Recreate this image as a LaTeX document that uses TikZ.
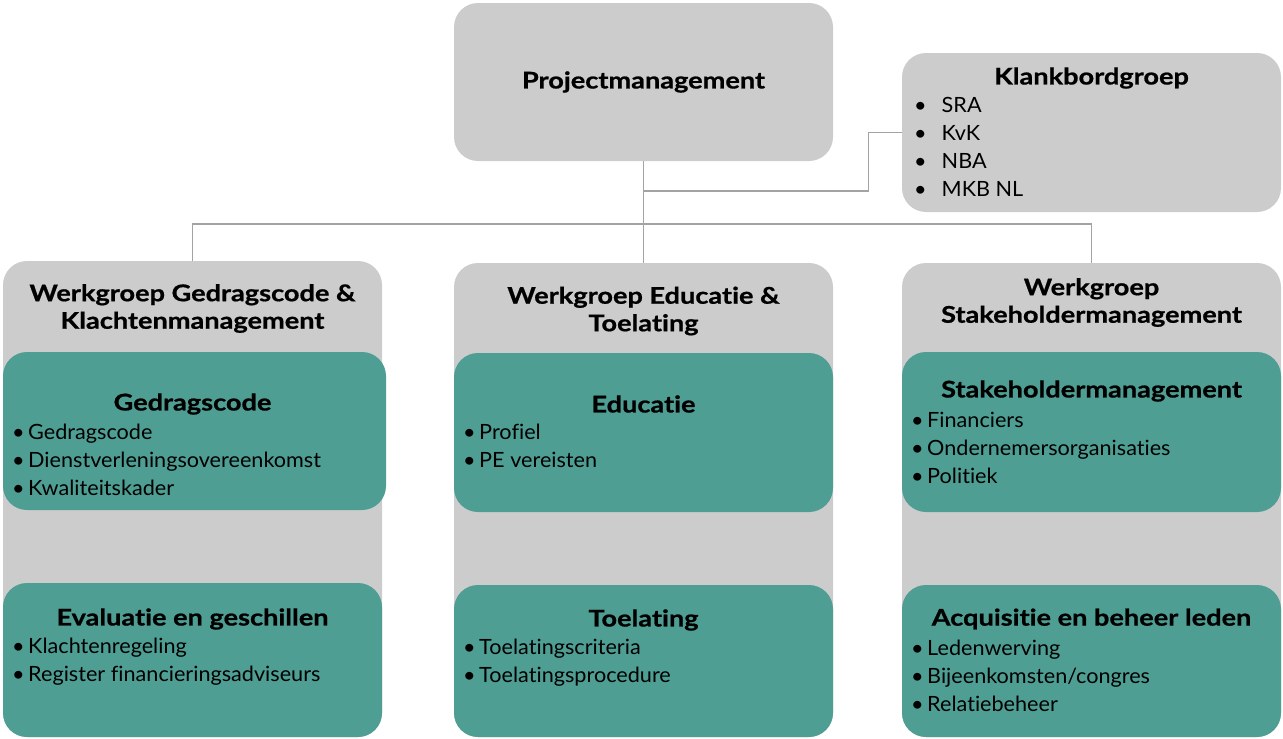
\documentclass[tikz,border=0pt]{standalone}
\usepackage{fontspec}
\setmainfont{Lato}[Ligatures=NoCommon, FakeStretch=1.03]
\newfontfamily\titlefont{Lato}[Ligatures=NoCommon, FakeStretch=1.18, BoldFeatures={FakeBold=0.8}]
\usetikzlibrary{positioning}
\definecolor{boxgray}{HTML}{CCCCCC}
\definecolor{wgteal}{HTML}{4E9E94}
\definecolor{linegray}{HTML}{A3A3A3}
\tikzset{
	graybox/.style={fill=boxgray, rounded corners=24pt, minimum width=379pt, inner sep=0pt},
	tealbox/.style={fill=wgteal, rounded corners=24pt, minimum width=379pt, inner sep=0pt},
	boxtitle/.style={font=\titlefont\fontsize{23}{27.5}\selectfont\bfseries, align=center, inner sep=0pt},
	boxitems/.style={font=\fontsize{21}{28}\selectfont, align=left, anchor=west, inner sep=0pt},
	conn/.style={draw=linegray, line width=1.8pt}
}
\begin{document}
\begin{tikzpicture}[x=1pt, y=-1pt]
	%%%%% START %%%%%
	\useasboundingbox (0,0) rectangle (1283,739);
	
	% top
	\node[graybox, minimum height=158pt] (pm) at (643.5,82) {};
	\node[boxtitle] (pmtitle) at (643.5,82) {Projectmanagement};
	
	\node[graybox, minimum height=159pt] (kb) at (1091.5,132.5) {};
	\node[boxtitle] (kbtitle) at (1091.5,78) {Klankbordgroep};
	\node[boxitems] (kbitems) at (914,147) {\textbullet\hspace{15pt}SRA\\ \textbullet\hspace{15pt}KvK\\ \textbullet\hspace{15pt}NBA\\ \textbullet\hspace{15pt}MKB NL};
	
	% werkgroepen
	\node[graybox, minimum height=476pt] (wgone) at (192.5,499) {};
	\node[graybox, minimum height=474pt] (wgtwo) at (643.5,500) {};
	\node[graybox, minimum height=474pt] (wgthree) at (1091.5,500) {};
	
	\node[boxtitle] (wgonetitle) at (192.5,308.5) {Werkgroep Gedragscode \&\\Klachtenmanagement};
	\node[boxtitle] (wgtwotitle) at (643.5,311) {Werkgroep Educatie \&\\Toelating};
	\node[boxtitle] (wgthreetitle) at (1091.5,302.5) {Werkgroep\\Stakeholdermanagement};
	
	% kolom 1
	\node[tealbox, minimum width=383pt, minimum height=158pt] (gedrag) at (194.5,431) {};
	\node[boxtitle] (gedragtitle) at (192.5,404) {Gedragscode};
	\node[boxitems] (gedragitems) at (12,460) {\textbullet\,Gedragscode\\ \textbullet\,Dienstverleningsovereenkomst\\ \textbullet\,Kwaliteitskader};
	
	\node[tealbox, minimum height=154pt] (evaluatie) at (192.5,660) {};
	\node[boxtitle] (evaluatietitle) at (192.5,619) {Evaluatie en geschillen};
	\node[boxitems] (evaluatieitems) at (12,662) {\textbullet\,Klachtenregeling\\ \textbullet\,Register financieringsadviseurs};
	
	% kolom 2
	\node[tealbox, minimum height=159pt] (educatie) at (643.5,432.5) {};
	\node[boxtitle] (educatietitle) at (643.5,404) {Educatie};
	\node[boxitems] (educatieitems) at (463,445.5) {\textbullet\,Profiel\\ \textbullet\,PE vereisten};
	
	\node[tealbox, minimum height=152pt] (toelating) at (643.5,661) {};
	\node[boxtitle] (toelatingtitle) at (643.5,620) {Toelating};
	\node[boxitems] (toelatingitems) at (463,663) {\textbullet\,Toelatingscriteria\\ \textbullet\,Toelatingsprocedure};
	
	% kolom 3
	\node[tealbox, minimum height=160pt] (stake) at (1091.5,432) {};
	\node[boxtitle] (staketitle) at (1091.5,391) {Stakeholdermanagement};
	\node[boxitems] (stakeitems) at (911,448) {\textbullet\,Financiers\\ \textbullet\,Ondernemersorganisaties\\ \textbullet\,Politiek};
	
	\node[tealbox, minimum height=152pt] (acquisitie) at (1091.5,661) {};
	\node[boxtitle] (acquisitietitle) at (1091.5,619) {Acquisitie en beheer leden};
	\node[boxitems] (acquisitieitems) at (911,676) {\textbullet\,Ledenwerving\\ \textbullet\,Bijeenkomsten/congres\\ \textbullet\,Relatiebeheer};
	
	% lijnen
	\coordinate (split) at (643.5,224);
	\coordinate (kbjoin) at (643.5,191);
	\draw[conn] (pm.south) -- (wgtwo.north);
	\draw[conn] (wgone.north) |- (split) -| (wgthree.north);
	\draw[conn] (kbjoin) -- ++(225,0) |- (kb.west);
	
	%%%%% END %%%%%
\end{tikzpicture}
\end{document}
